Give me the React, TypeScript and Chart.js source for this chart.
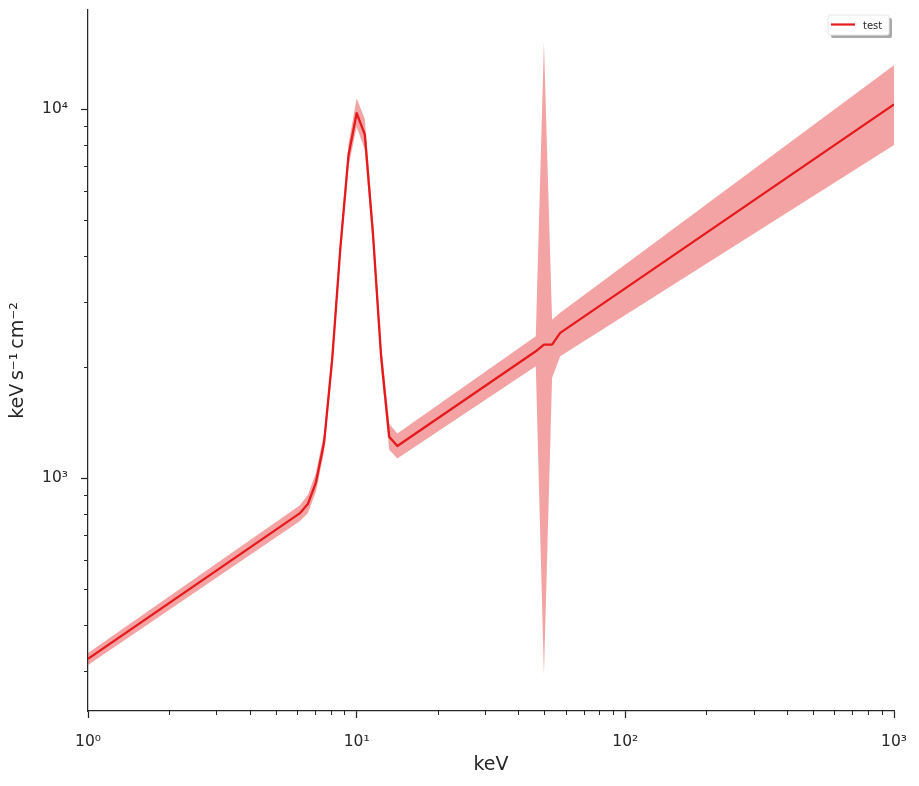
import { useEffect, useRef } from 'react';
import { Chart, registerables } from 'chart.js';

Chart.register(...registerables);

// ---- data ----
const energies = [1, 6.136, 6.579, 7.055, 7.565, 8.111, 8.697, 9.326, 10.0, 10.72, 11.5, 12.33, 13.22, 14.17, 46.42, 49.77, 53.37, 57.22, 1000];
const flux = [324, 803, 851, 975, 1251, 2109, 4209, 7510, 9754, 8550, 4592, 2139, 1295, 1223, 2208, 2302, 2302, 2477, 10300];
const fluxLo = [312, 764, 804, 920, 1180, 1990, 3971, 7019, 8950, 7773, 4252, 1981, 1195, 1131, 2011, 294, 1870, 2141, 8000];
const fluxHi = [336, 844, 900, 1034, 1326, 2236, 4462, 8036, 10700, 9405, 4959, 2310, 1404, 1322, 2425, 15170, 2689, 2807, 13150];

const seriesLabel = 'test';

const xMajorTicks = [1, 10, 100, 1000];
const xTickLabels = ['10⁰', '10¹', '10²', '10³'];
const xMinorTicks = [2, 3, 4, 5, 6, 7, 8, 9, 20, 30, 40, 50, 60, 70, 80, 90, 200, 300, 400, 500, 600, 700, 800, 900];
const yMajorTicks = [1000, 10000];
const yTickLabels = ['10³', '10⁴'];
const yMinorTicks = [300, 400, 500, 600, 700, 800, 900, 2000, 3000, 4000, 5000, 6000, 7000, 8000, 9000];

const xTitle = 'keV';
const yTitle = 'keV\u2009s⁻¹\u2009cm⁻²';

const LINE = '#e41a1c';
const BAND = 'rgba(228,26,28,0.4)';
const INK = '#262626';
const FONT = "'DejaVu Sans', sans-serif";

const minorTickPlugin = {
  id: 'minorTicks',
  afterDraw(chart: any) {
    const { ctx, chartArea } = chart;
    const xs = chart.scales.x;
    const ys = chart.scales.y;
    ctx.save();
    ctx.strokeStyle = INK;
    ctx.lineWidth = 1;
    xMinorTicks.forEach((v) => {
      const px = Math.round(xs.getPixelForValue(v)) + 0.5;
      ctx.beginPath();
      ctx.moveTo(px, chartArea.bottom);
      ctx.lineTo(px, chartArea.bottom + 4);
      ctx.stroke();
    });
    yMinorTicks.forEach((v) => {
      const py = Math.round(ys.getPixelForValue(v)) + 0.5;
      ctx.beginPath();
      ctx.moveTo(chartArea.left - 4, py);
      ctx.lineTo(chartArea.left, py);
      ctx.stroke();
    });
    ctx.restore();
  },
};

const legendPlugin = {
  id: 'boxLegend',
  afterDraw(chart: any) {
    const { ctx, chartArea } = chart;
    const w = 61;
    const h = 20;
    const x = chartArea.right - 66;
    const y = chartArea.top + 5;
    const r = 2;
    const rr = (bx: number, by: number) => {
      ctx.beginPath();
      ctx.moveTo(bx + r, by);
      ctx.lineTo(bx + w - r, by);
      ctx.quadraticCurveTo(bx + w, by, bx + w, by + r);
      ctx.lineTo(bx + w, by + h - r);
      ctx.quadraticCurveTo(bx + w, by + h, bx + w - r, by + h);
      ctx.lineTo(bx + r, by + h);
      ctx.quadraticCurveTo(bx, by + h, bx, by + h - r);
      ctx.lineTo(bx, by + r);
      ctx.quadraticCurveTo(bx, by, bx + r, by);
      ctx.closePath();
    };
    ctx.save();
    rr(x + 3, y + 3);
    ctx.fillStyle = '#a9a9a9';
    ctx.fill();
    rr(x, y);
    ctx.fillStyle = '#ffffff';
    ctx.fill();
    ctx.strokeStyle = '#e6e6e6';
    ctx.lineWidth = 1;
    ctx.stroke();
    ctx.beginPath();
    ctx.strokeStyle = LINE;
    ctx.lineWidth = 2.2;
    ctx.moveTo(x + 3, y + 9.5);
    ctx.lineTo(x + 27, y + 9.5);
    ctx.stroke();
    ctx.fillStyle = INK;
    ctx.font = `10px ${FONT}`;
    ctx.textBaseline = 'alphabetic';
    ctx.textAlign = 'left';
    ctx.fillText(chart.data.datasets[0].label, x + 35, y + 13.5);
    ctx.restore();
  },
};

export default function App() {
  const ref = useRef<HTMLCanvasElement>(null);

  useEffect(() => {
    const canvas = ref.current!;
    const chart = new Chart(canvas, {
      type: 'line',
      data: {
        datasets: [
          {
            label: seriesLabel,
            data: energies.map((e, i) => ({ x: e, y: flux[i] })),
            borderColor: LINE,
            borderWidth: 2.3,
            borderJoinStyle: 'round',
            pointRadius: 0,
            fill: false,
            tension: 0,
            order: 0,
          },
          {
            label: 'upper',
            data: energies.map((e, i) => ({ x: e, y: fluxHi[i] })),
            borderColor: 'rgba(0,0,0,0)',
            borderWidth: 0,
            pointRadius: 0,
            backgroundColor: BAND,
            fill: '+1',
            tension: 0,
            order: 1,
          },
          {
            label: 'lower',
            data: energies.map((e, i) => ({ x: e, y: fluxLo[i] })),
            borderColor: 'rgba(0,0,0,0)',
            borderWidth: 0,
            pointRadius: 0,
            fill: false,
            tension: 0,
            order: 2,
          },
        ],
      } as any,
      options: {
        animation: false,
        responsive: false,
        devicePixelRatio: 1,
        layout: { padding: { top: 10, right: 25, left: 0, bottom: 0 } },
        plugins: {
          legend: { display: false },
          tooltip: { enabled: false },
        },
        scales: {
          x: {
            type: 'logarithmic',
            min: 1,
            max: 1000,
            afterBuildTicks: (scale: any) => {
              scale.ticks = xMajorTicks.map((v) => ({ value: v }));
            },
            afterFit: (scale: any) => {
              scale.height = 75;
              scale.paddingLeft = 0;
              scale.paddingRight = 0;
              scale.paddingTop = 0;
              scale.paddingBottom = 0;
            },
            ticks: {
              autoSkip: false,
              maxRotation: 0,
              padding: 15,
              color: INK,
              font: { family: FONT, size: 15.5 },
              callback: (value: any) => {
                const i = xMajorTicks.indexOf(Number(value));
                return i >= 0 ? xTickLabels[i] : '';
              },
            },
            grid: {
              display: true,
              drawOnChartArea: false,
              drawTicks: true,
              tickLength: 7,
              tickWidth: 1.25,
              tickColor: INK,
            },
            border: { display: true, color: INK, width: 1.25 },
            title: {
              display: true,
              text: xTitle,
              color: INK,
              font: { family: FONT, size: 19 },
              padding: { top: 0, bottom: 10 },
            },
          },
          y: {
            type: 'logarithmic',
            min: 234,
            max: 18570,
            afterBuildTicks: (scale: any) => {
              scale.ticks = yMajorTicks.map((v) => ({ value: v }));
            },
            afterFit: (scale: any) => {
              scale.width = 88;
              scale.paddingLeft = 0;
              scale.paddingRight = 0;
              scale.paddingTop = 0;
              scale.paddingBottom = 0;
            },
            ticks: {
              autoSkip: false,
              padding: 13,
              color: INK,
              font: { family: FONT, size: 15.5 },
              callback: (value: any) => {
                const i = yMajorTicks.indexOf(Number(value));
                return i >= 0 ? yTickLabels[i] : '';
              },
            },
            grid: {
              display: true,
              drawOnChartArea: false,
              drawTicks: true,
              tickLength: 7,
              tickWidth: 1.25,
              tickColor: INK,
            },
            border: { display: true, color: INK, width: 1.25 },
            title: {
              display: true,
              text: yTitle,
              color: INK,
              font: { family: FONT, size: 19 },
              padding: { top: 7, bottom: 0 },
            },
          },
        },
      } as any,
      plugins: [minorTickPlugin, legendPlugin],
    });
    return () => chart.destroy();
  }, []);

  return (
    <div style={{ position: 'absolute', left: 0, top: 0, width: 919, height: 786, background: '#fff' }}>
      <canvas ref={ref} width={919} height={786} style={{ width: 919, height: 786, display: 'block' }} />
    </div>
  );
}
